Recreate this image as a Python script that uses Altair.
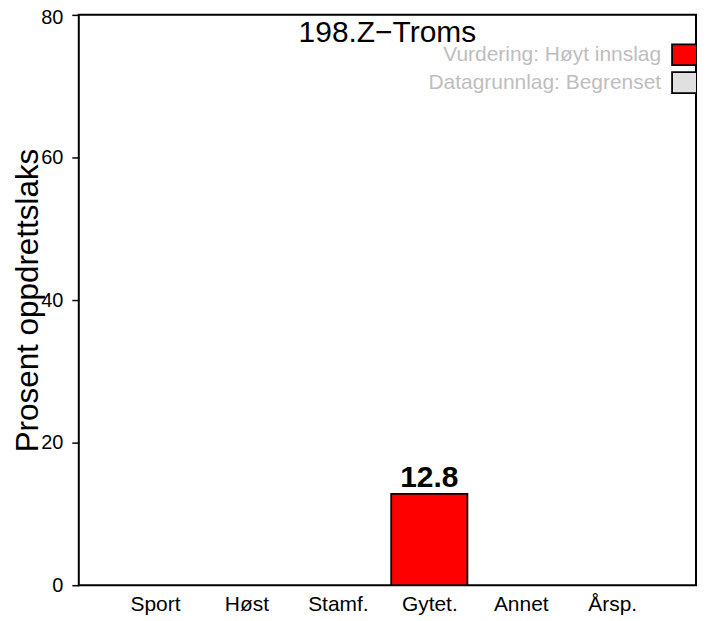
import json
import altair as alt
import pandas as pd

# ---- data ----
categories = ["Sport", "Høst", "Stamf.", "Gytet.", "Annet", "Årsp."]
values = [0, 0, 0, 12.8, 0, 0]
value_labels = ["", "", "", "12.8", "", ""]
subtitle = "198.Z\u2212Troms"
y_title = "Prosent oppdrettslaks"
y_ticks = [0, 20, 40, 60, 80]
legend_labels = ["Vurdering: Høyt innslag", "Datagrunnlag: Begrenset"]
legend_colors = ["#FF0000", "#E0E0E0"]

# barplot layout (bar width 1, space 0.2)
left = [0.2 + 1.2 * i for i in range(len(categories))]
df = pd.DataFrame({
    "cat": categories,
    "value": values,
    "label": value_labels,
    "x1": left,
    "x2": [l + 1.0 for l in left],
    "xc": [l + 0.5 for l in left],
})
centers = list(df["xc"])

FONT = "Liberation Sans"
W, H = 619, 572

label_expr = f"{json.dumps(categories, ensure_ascii=False)}[round((datum.value - 0.7) / 1.2)]"

xscale = alt.Scale(domain=[-0.3, 7.8], nice=False, zero=False)
yscale = alt.Scale(domain=[0, 80], nice=False)

xaxis = alt.Axis(values=centers, labelExpr=label_expr, ticks=False, domain=False,
                 grid=False, labelFontSize=21, labelPadding=8, labelColor="black",
                 title=None, labelFont=FONT)
yaxis = alt.Axis(values=y_ticks, title=y_title, titleFontSize=31.5, titleFontWeight="normal",
                 titleX=-41, titleY=286, titleAngle=270, titleAlign="center",
                 titleBaseline="alphabetic", titleColor="black", titleFont=FONT,
                 labelFontSize=20, labelPadding=9, tickSize=7, tickColor="black",
                 labelOffset={"expr": "datum.value == 80 ? 3 : 0"},
                 tickWidth=1.5, domain=False, grid=False, labelColor="black", labelFont=FONT)

base = alt.Chart(df).transform_filter("datum.value > 0")

bars = base.mark_rect(fill="#FF0000", stroke="black", strokeWidth=1.8).encode(
    x=alt.X("x1:Q", scale=xscale, axis=xaxis),
    x2="x2:Q",
    y=alt.Y("value:Q", scale=yscale, axis=yaxis),
    y2=alt.datum(0),
)

bar_text = base.mark_text(fontSize=30, fontWeight="bold", baseline="alphabetic",
                          dy=-6.5, color="black", font=FONT).encode(
    x=alt.X("xc:Q", scale=xscale),
    y=alt.Y("value:Q", scale=yscale),
    text="label:N",
)

sub = alt.Chart(pd.DataFrame({"t": [subtitle]})).mark_text(
    fontSize=30, baseline="alphabetic", align="center", color="black", font=FONT
).encode(x=alt.value(W / 2), y=alt.value(27), text="t:N")

layers = [bars, bar_text, sub]
for i, (lab, col) in enumerate(zip(legend_labels, legend_colors)):
    ld = pd.DataFrame({"t": [lab]})
    yc = 40 + 28 * i
    layers.append(
        alt.Chart(ld).mark_rect(fill=col, stroke="black", strokeWidth=1.8, clip=True).encode(
            x=alt.value(595), x2=alt.value(624), y=alt.value(yc - 10.5), y2=alt.value(yc + 10.5)
        )
    )
    layers.append(
        alt.Chart(ld).mark_text(fontSize=21, align="right", baseline="middle",
                                color="#BEBEBE", font=FONT).encode(
            x=alt.value(584), y=alt.value(yc), text="t:N"
        )
    )

chart = alt.layer(*layers).properties(
    width=W, height=H,
    autosize=alt.AutoSizeParams(type="none"),
    padding={"left": 71, "top": 6, "right": 2, "bottom": 35},
).configure(font=FONT).configure_view(stroke="black", strokeWidth=2)

chart.save("out.html", embed_options={"renderer": "svg", "actions": False})
